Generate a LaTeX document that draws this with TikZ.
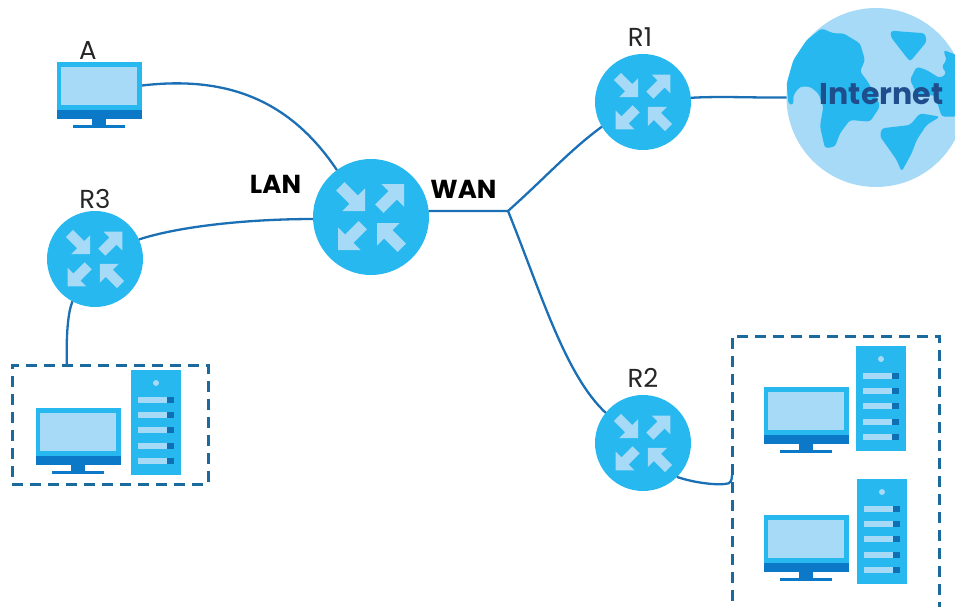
\documentclass[tikz,border=0pt]{standalone}
\usepackage{fontspec}
\setmainfont{Poppins}
\usetikzlibrary{calc}
\definecolor{cyanb}{HTML}{27B8F0}
\definecolor{lightb}{HTML}{A6DAF7}
\definecolor{darkb}{HTML}{0B78C8}
\definecolor{linkb}{HTML}{1B6FB5}
\definecolor{dashb}{HTML}{1A6A9E}
\definecolor{navyb}{HTML}{1F4E8C}
\definecolor{squareb}{HTML}{0F6FB5}
\tikzset{
  router/.style={circle,fill=cyanb,draw=none,inner sep=0pt,outer sep=0pt},
  bigrouter/.style={router,minimum size=116pt},
  smallrouter/.style={router,minimum size=96pt},
  link/.style={draw=linkb,line width=2.3pt},
  groupbox/.style={rectangle,draw=dashb,line width=3pt,dash pattern=on 11pt off 7pt,inner sep=0pt,outer sep=0pt},
  lbl/.style={inner sep=0pt,font=\fontsize{26}{28}\selectfont,text=black!85},
  boldlbl/.style={inner sep=0pt,font=\fontsize{26}{28}\selectfont\bfseries,text=black},
  arr/.style={fill=lightb,draw=none},
  land/.style={fill=cyanb,rounded corners=3pt},
  pics/routerarrows/.style={code={
    \fill[arr,shift={(-6,-6)},rotate=-45] (0,0)--(-16,16)--(-16,6)--(-35,6)--(-35,-6)--(-16,-6)--(-16,-16)--cycle;
    \fill[arr,shift={(33,-33)},rotate=45] (0,0)--(-16,16)--(-16,6)--(-35,6)--(-35,-6)--(-16,-6)--(-16,-16)--cycle;
    \fill[arr,shift={(-33,33)},rotate=225] (0,0)--(-16,16)--(-16,6)--(-35,6)--(-35,-6)--(-16,-6)--(-16,-16)--cycle;
    \fill[arr,shift={(6,6)},rotate=135] (0,0)--(-16,16)--(-16,6)--(-35,6)--(-35,-6)--(-16,-6)--(-16,-16)--cycle;
  }},
  pics/monitor/.style={code={
    \fill[cyanb] (0,0) rectangle (85,48);
    \fill[darkb] (0,48) rectangle (85,57);
    \fill[lightb] (4,5) rectangle (80,43);
    \fill[darkb] (35,57) rectangle (49,64);
    \fill[darkb] (16,63) rectangle (68,66);
  }},
  pics/server/.style={code={
    \fill[cyanb] (0,0) rectangle (50,105);
    \fill[lightb] (25,13) circle (3pt);
    \foreach \yy in {30,45,60,76,91}{
      \fill[lightb] (7,\yy-3) rectangle (36,\yy+3);
      \fill[squareb] (36,\yy-3) rectangle (43,\yy+3);
    }
  }}
}
\begin{document}
\begin{tikzpicture}[x=1pt,y=-1pt]
\useasboundingbox (0,0) rectangle (955,607);
\clip (0,0) rectangle (955,607);
% Internet globe
\node[circle,fill=lightb,minimum size=179pt,inner sep=0pt,outer sep=0pt] (net) at (876,97.5) {};
\begin{scope}[shift={(770,0)},x=0.3333pt,y=-0.3333pt]
\fill[land] (55,312)--(50,250)--(70,180)--(110,120)--(155,85)--(190,100)--(220,100)--(270,130)--(285,180)--(270,215)--(290,240)--(320,290)--(330,320)--(300,365)--(240,360)--(210,400)--(195,440)--(165,445)--(150,380)--(160,320)--(145,280)--(120,260)--(90,260)--(70,285)--(70,315)--cycle;
\fill[land] (362,92)--(465,100)--(470,125)--(420,185)--(385,140)--(362,110)--cycle;
\fill[land] (520,150)--(560,165)--(560,350)--(515,350)--(495,285)--(445,290)--(420,240)--(440,200)--(470,210)--(510,235)--(530,220)--(515,200)--(530,180)--cycle;
\fill[land] (335,385)--(420,375)--(450,340)--(510,350)--(470,375)--(440,420)--(425,460)--(395,515)--(380,480)--(345,430)--(330,410)--cycle;
\end{scope}
\node[inner sep=0pt,font=\fontsize{30}{32}\selectfont\bfseries,text=navyb] (nettext) at (881.5,94) {Internet};
% Routers
\node[bigrouter] (big) at (371,217) {};
\pic at (371,217) {routerarrows};
\node[smallrouter] (r1) at (643,102) {};
\pic[scale=0.83] at (643,102) {routerarrows};
\node[smallrouter] (r2) at (643,443) {};
\pic[scale=0.83] at (643,443) {routerarrows};
\node[smallrouter] (r3) at (95,259) {};
\pic[scale=0.83] at (95,259) {routerarrows};
% Devices
\node[rectangle,minimum width=85pt,minimum height=57pt,inner sep=0pt,outer sep=0pt] (pca) at (99.5,90.5) {};
\pic at (57,62) {monitor};
\node[groupbox,minimum width=196pt,minimum height=119pt] (lg) at (110,424.5) {};
\pic at (36,408) {monitor};
\pic at (131,370) {server};
\node[groupbox,minimum width=207pt,minimum height=304pt] (rg) at (835.5,488) {};
\pic at (764,387) {monitor};
\pic at (856,346) {server};
\pic at (764,515) {monitor};
\pic at (857,479) {server};
% Links
\coordinate (junction) at (508,211);
\draw[link] (pca.east) ++(0,-5) .. controls +(85,-10) and (290,100) .. (big.126);
\draw[link] (r3.24) .. controls (180,226) and (250,219) .. (big.182);
\draw[link] (big.6) -- (junction);
\draw[link] (junction) .. controls (545,178) and (570,150) .. (r1.211);
\draw[link] (junction) .. controls (540,290) and (565,375) .. (r2.141);
\draw[link] (r1.5) .. controls (720,96) and (760,98) .. (net.west);
\draw[link] (r3.242) .. controls (68,312) and (66,335) .. ($(lg.north west)!0.28!(lg.north east)$);
\draw[link] (r2.-45) .. controls (695,483) and (715,485) .. (725,484) .. controls (731,484) and (732,480) .. ($(rg.north west)!0.457!(rg.south west)$);
% Labels
\node[lbl] (la) at (88,50) {A};
\node[lbl] (l1) at (640,37) {R1};
\node[lbl] (l2) at (643,378) {R2};
\node[lbl] (l3) at (95,199) {R3};
\node[boldlbl] (llan) at (275.5,184) {LAN};
\node[boldlbl] (lwan) at (463.5,189) {WAN};
\end{tikzpicture}
\end{document}
